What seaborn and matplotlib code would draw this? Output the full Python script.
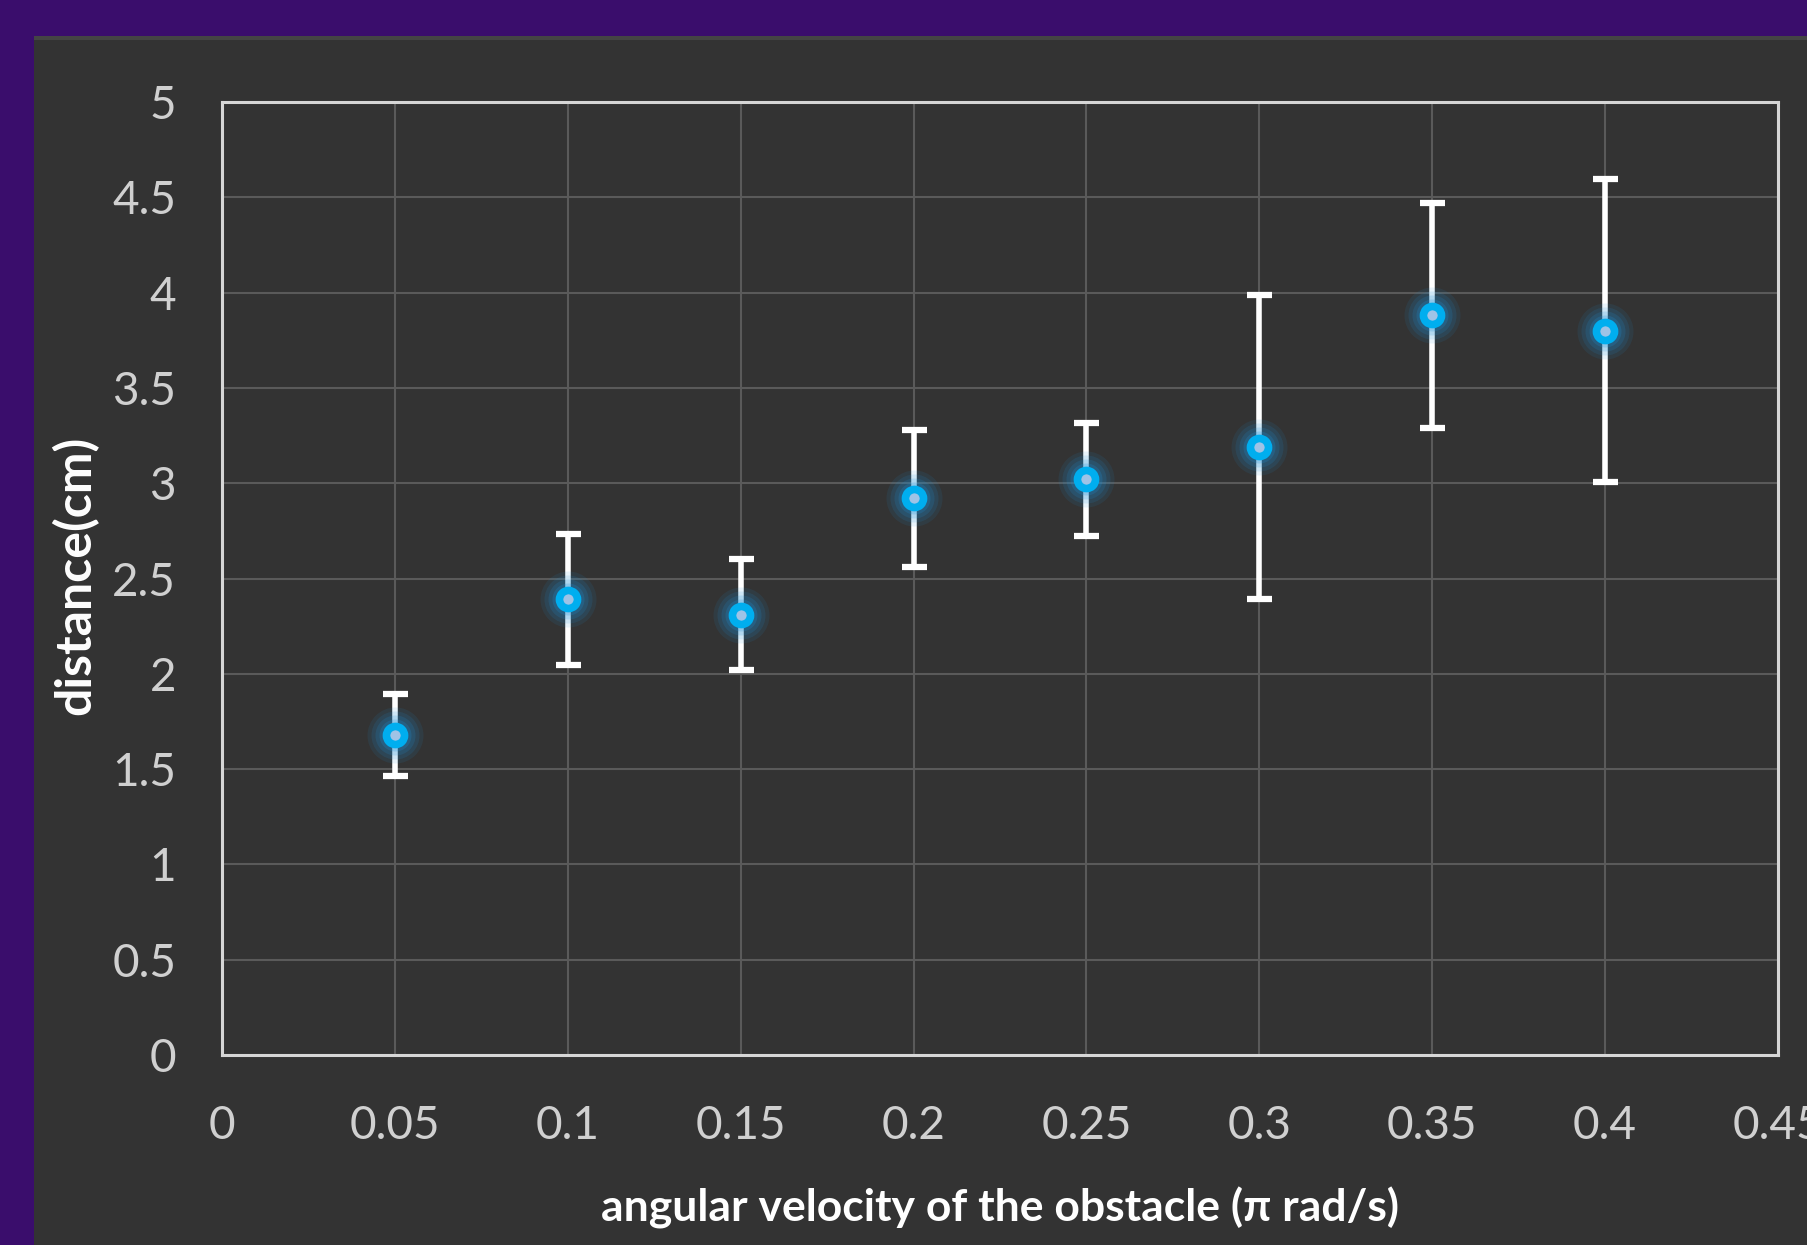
import numpy as np
import pandas as pd
import seaborn as sns
import matplotlib.pyplot as plt
from matplotlib.patches import Rectangle

# angular velocity (pi rad/s), mean distance (cm), error half-width (cm)
omega = [0.05, 0.10, 0.15, 0.20, 0.25, 0.30, 0.35, 0.40]
distance = [1.68, 2.39, 2.31, 2.92, 3.02, 3.19, 3.88, 3.80]
err = [0.215, 0.345, 0.29, 0.36, 0.295, 0.795, 0.59, 0.795]

x_ticks = [0, 0.05, 0.1, 0.15, 0.2, 0.25, 0.3, 0.35, 0.4, 0.45]
x_ticklabels = ['0', '0.05', '0.1', '0.15', '0.2', '0.25', '0.3', '0.35', '0.4', '0.45']
y_ticks = [0, 0.5, 1, 1.5, 2, 2.5, 3, 3.5, 4, 4.5, 5]
y_ticklabels = ['0', '0.5', '1', '1.5', '2', '2.5', '3', '3.5', '4', '4.5', '5']

df = pd.DataFrame({'omega': omega, 'distance': distance, 'err': err})

sns.set_style('dark')
plt.rcParams['font.family'] = ['Lato', 'DejaVu Sans']

W, H = 1807, 1245
fig = plt.figure(figsize=(W / 100, H / 100), dpi=100)
fig.patch.set_facecolor('#3a0d6c')

# dark panel on top of the purple backdrop
fig.patches.append(Rectangle((34 / W, 0), 1 - 34 / W, 1 - 36 / H, transform=fig.transFigure,
                             facecolor='#333333', edgecolor='none', zorder=-2))
fig.patches.append(Rectangle((34 / W, 1 - 40 / H), 1 - 34 / W, 4 / H, transform=fig.transFigure,
                             facecolor='#444444', edgecolor='none', zorder=-1))

ax = fig.add_axes([222 / W, (H - 1055) / H, (1778 - 222) / W, (1055 - 102) / H])
ax.set_zorder(2)
ax.set_facecolor('#333333')

ax.errorbar(df['omega'], df['distance'], yerr=df['err'], fmt='none', ecolor='white',
            elinewidth=4, capsize=9, capthick=4.5, zorder=3)

# soft glow around the markers
for d, a in [(56, 0.10), (48, 0.13), (40, 0.17), (32, 0.22)]:
    ax.scatter(df['omega'], df['distance'], s=(d * 0.72) ** 2, color='#1f8fd6',
               alpha=a, linewidths=0, zorder=4)

sns.scatterplot(data=df, x='omega', y='distance', ax=ax, s=(13.0) ** 2,
                color='#9fc3e6', edgecolor='#00aeef', linewidth=5.5, zorder=5, legend=False)

ax.set_xlim(0, 0.45)
ax.set_ylim(0, 5)
ax.set_xticks(x_ticks)
ax.set_xticklabels(x_ticklabels)
ax.set_yticks(y_ticks)
ax.set_yticklabels(y_ticklabels)
ax.tick_params(axis='x', length=0, pad=36, labelsize=33, labelcolor='#d0d0d0')
ax.tick_params(axis='y', length=0, pad=33, labelsize=33, labelcolor='#d0d0d0')

ax.grid(True, color='#5a5a5a', linewidth=1.5)
ax.set_axisbelow(True)
for sp in ax.spines.values():
    sp.set_visible(True)
    sp.set_color('#d6d6d6')
    sp.set_linewidth(2.2)

ax.set_xlabel('angular velocity of the obstacle (π rad/s)', fontsize=32,
              fontweight='bold', color='white')
ax.set_ylabel('distance(cm)', fontsize=36, fontweight='bold', color='white')
ax.xaxis.label.set_va('center')
ax.yaxis.label.set_va('center')
ax.xaxis.set_label_coords(0.5, -(1208 - 1055) / (1055 - 102))
ax.yaxis.set_label_coords(-(222 - 75) / (1778 - 222), 0.503)

fig.savefig('out.png', dpi=100, facecolor=fig.get_facecolor())
